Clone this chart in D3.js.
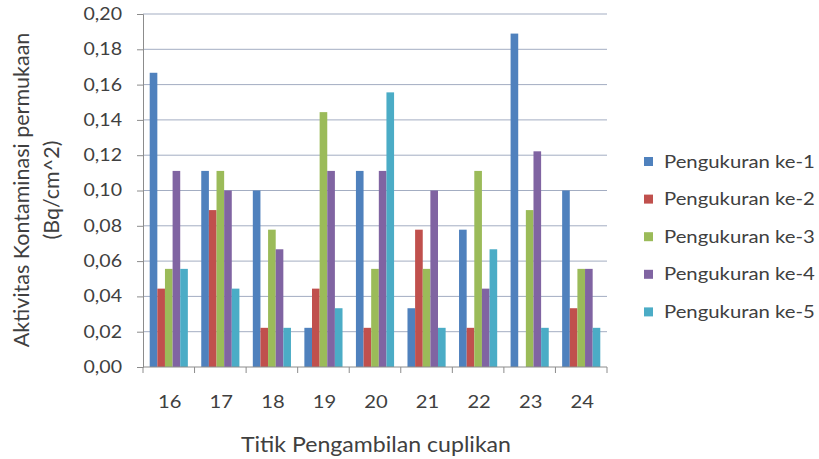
<!DOCTYPE html>
<html><head><meta charset="utf-8">
<script src="https://cdn.jsdelivr.net/npm/d3@7/dist/d3.min.js"></script>
<style>body{margin:0;background:#fff}svg{display:block}text{font-family:Lato,"Open Sans",sans-serif;fill:#404040}</style>
</head><body><svg id="c" width="819" height="459"></svg>
<script>
const categories = ["16","17","18","19","20","21","22","23","24"];
const seriesNames = ["Pengukuran ke-1","Pengukuran ke-2","Pengukuran ke-3","Pengukuran ke-4","Pengukuran ke-5"];
const s1 = [0.1667,0.1111,0.1000,0.0222,0.1111,0.0333,0.0778,0.1889,0.1000];
const s2 = [0.0444,0.0889,0.0222,0.0444,0.0222,0.0778,0.0222,0.0000,0.0333];
const s3 = [0.0556,0.1111,0.0778,0.1444,0.0556,0.0556,0.1111,0.0889,0.0556];
const s4 = [0.1111,0.1000,0.0667,0.1111,0.1111,0.1000,0.0444,0.1222,0.0556];
const s5 = [0.0556,0.0444,0.0222,0.0333,0.1556,0.0222,0.0667,0.0222,0.0222];
const yTicks = [0,0.02,0.04,0.06,0.08,0.10,0.12,0.14,0.16,0.18,0.20];
const colors = ["#4f81bd","#c0504d","#9bbb59","#8064a2","#4bacc6"];
const series = [s1,s2,s3,s4,s5];

function stretch(sel, k){
  sel.each(function(){
    const len = this.getComputedTextLength();
    d3.select(this).attr("textLength", len*k).attr("lengthAdjust","spacingAndGlyphs");
  });
}

const svg = d3.select("#c");
const L=143, R=607, T=14, B=367;
const x = d3.scaleBand().domain(categories).range([L,R]).paddingInner(0.26).paddingOuter(0.13);
const xs = d3.scaleBand().domain(d3.range(5)).range([0,x.bandwidth()]);
const y = d3.scaleLinear().domain([0,0.2]).range([B,T]);

// gridlines
svg.append("g").selectAll("line").data(yTicks.slice(1)).join("line")
  .attr("x1",L).attr("x2",R).attr("y1",d=>y(d)).attr("y2",d=>y(d))
  .attr("stroke","#a3adc2").attr("stroke-width",1);

// bars
categories.forEach((c,i)=>{
  series.forEach((s,j)=>{
    if(s[i]<=0) return;
    svg.append("rect").attr("x",x(c)+xs(j)).attr("width",xs.bandwidth())
      .attr("y",y(s[i])).attr("height",B-y(s[i])).attr("fill",colors[j]);
  });
});

// y axis
const ya = svg.append("g").attr("transform",`translate(${L},0)`)
  .call(d3.axisLeft(y).tickValues(yTicks).tickSize(6).tickPadding(15).tickFormat(d=>d3.format(".2f")(d).replace(".",",")));
ya.select(".domain").attr("stroke","#8c8c8c");
ya.selectAll(".tick line").attr("stroke","#8c8c8c");
ya.selectAll("text").style("font-size","17px").style("fill","#404040").style("font-family","Lato,sans-serif");
stretch(ya.selectAll("text"), 1.15);

// x axis
const xb = d3.scaleLinear().domain([0,9]).range([L,R]);
const xa = svg.append("g").attr("transform",`translate(0,${B})`);
xa.append("line").attr("x1",L).attr("x2",R).attr("stroke","#8c8c8c");
xa.selectAll("line.t").data(d3.range(10)).join("line").attr("class","t")
  .attr("x1",d=>xb(d)).attr("x2",d=>xb(d)).attr("y1",0).attr("y2",6).attr("stroke","#8c8c8c");
xa.selectAll("text").data(categories).join("text")
  .attr("x",d=>x(d)+x.bandwidth()/2+1).attr("y",41).attr("text-anchor","middle")
  .style("font-size","18px").text(d=>d);
stretch(xa.selectAll("text"), 1.12);

// axis titles
const xt = svg.append("text").attr("x",376).attr("y",452).attr("text-anchor","middle").style("font-size","21px").text("Titik Pengambilan cuplikan");
stretch(xt, 1.1);
const yt = svg.append("text").attr("transform","translate(29,190) rotate(-90)").attr("text-anchor","middle").style("font-size","21.5px");
yt.append("tspan").attr("x",0).attr("dy",0).text("Aktivitas Kontaminasi permukaan");
yt.append("tspan").attr("x",0).attr("dy",30).text("(Bq/cm^2)");

// legend
const lg = svg.append("g");
seriesNames.forEach((n,j)=>{
  const cy = 161.5 + j*37.6;
  lg.append("rect").attr("x",644).attr("y",cy-4.5).attr("width",9).attr("height",9).attr("fill",colors[j]);
  lg.append("text").attr("x",664).attr("y",cy+6).style("font-size","17.5px").text(n);
});
stretch(lg.selectAll("text"), 1.16);
</script></body></html>
